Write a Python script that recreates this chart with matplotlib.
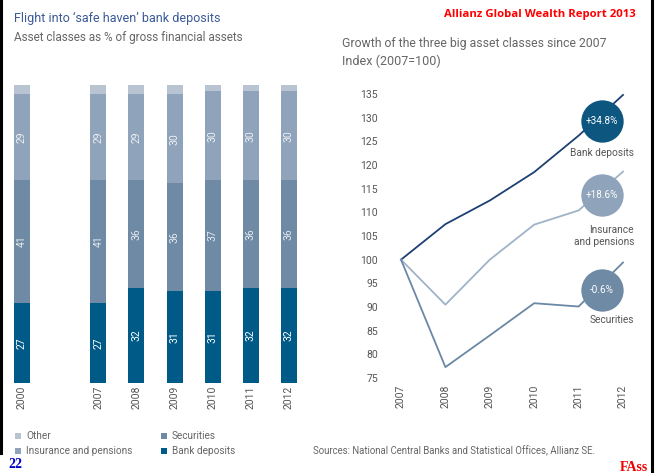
import matplotlib
matplotlib.use("Agg")
import matplotlib.pyplot as plt
from matplotlib.patches import Rectangle
from matplotlib.lines import Line2D

W, H = 657, 473
FONT = ['Roboto', 'DejaVu Sans']
plt.rcParams['font.family'] = FONT

# ---------------- data ----------------
bar_years = ['2000', '2007', '2008', '2009', '2010', '2011', '2012']
bank_dep = [27, 27, 32, 31, 31, 32, 32]
securities = [41, 41, 36, 36, 37, 36, 36]
insurance = [29, 29, 29, 30, 30, 30, 30]
other = [3, 3, 3, 3, 2, 2, 2]

line_years = [2007, 2008, 2009, 2010, 2011, 2012]
idx_bank = [100, 107.5, 112.5, 118.5, 126.2, 134.8]
idx_insurance = [100, 90.5, 100, 107.4, 110.4, 118.6]
idx_securities = [100, 77.3, 84, 90.8, 90.1, 99.4]
growth_labels = ['+34.8%', '+18.6%', '-0.6%']
series_names = ['Bank deposits', 'Insurance\nand pensions', 'Securities']

C_BANK = '#005a87'
C_SEC = '#6e8aa4'
C_INS = '#8fa3ba'
C_OTH = '#b8c4d2'
L_BANK = '#1d3f72'
L_INS = '#9fb3c8'
L_SEC = '#6a88a5'
GREY = '#666666'

fig = plt.figure(figsize=(W / 100, H / 100), dpi=100)
renderer = fig.canvas.get_renderer()


def fx(x):
    return x / W


def fy(y):
    return 1 - y / H


def fit(t, width):
    w = t.get_window_extent(renderer=renderer).width
    t.set_fontsize(t.get_fontsize() * width / w)
    return t


# ---------------- left: stacked bars ----------------
bar_pos = [0, 2, 3, 4, 5, 6, 7]
axL = fig.add_axes([fx(5), fy(383), (320 - 5) / W, (383 - 85) / H])
bw = 0.42
b1 = axL.bar(bar_pos, bank_dep, bw, color=C_BANK, linewidth=0)
bot2 = bank_dep
b2 = axL.bar(bar_pos, securities, bw, bottom=bot2, color=C_SEC, linewidth=0)
bot3 = [a + b for a, b in zip(bank_dep, securities)]
b3 = axL.bar(bar_pos, insurance, bw, bottom=bot3, color=C_INS, linewidth=0)
bot4 = [a + b for a, b in zip(bot3, insurance)]
b4 = axL.bar(bar_pos, other, bw, bottom=bot4, color=C_OTH, linewidth=0)
for cont, col in [(b1, '#ffffff'), (b2, '#e6ebf0'), (b3, '#eef1f5')]:
    axL.bar_label(cont, label_type='center', rotation=90, color=col, fontsize=7.5)
axL.set_xlim(-0.446, 7.813)
axL.set_ylim(0, 100)
axL.set_xticks(bar_pos, bar_years, rotation=90, va='top')
axL.tick_params(axis='x', length=0, pad=2, labelsize=7.5, labelcolor='#555555')
axL.set_yticks([])
for s in axL.spines.values():
    s.set_visible(False)

# ---------------- right: index lines ----------------
axR = fig.add_axes([fx(392), fy(382), 240 / W, 292 / H])
axR.plot(line_years, idx_bank, color=L_BANK, lw=1.3, zorder=2)
axR.plot(line_years, idx_insurance, color=L_INS, lw=1.3, zorder=2)
axR.plot(line_years, idx_securities, color=L_SEC, lw=1.3, zorder=2)
axR.set_xlim(2006.797, 2012.203)
axR.set_ylim(74.156, 135.844)
axR.set_yticks(range(75, 136, 5))
axR.set_xticks(line_years, [str(y) for y in line_years], rotation=90, va='top')
axR.tick_params(axis='y', length=0, pad=10, labelsize=7.5, labelcolor='#555555')
axR.tick_params(axis='x', length=0, pad=2, labelsize=7.5, labelcolor='#555555')
for s in axR.spines.values():
    s.set_visible(False)

circ_x = 2011.52
circ_y = [129.4, 113.7, 93.6]
circ_cols = ['#0c5680', C_INS, C_SEC]
name_y = [122.6, 105.0, 87.3]
for cy, col, lab, nm, ny in zip(circ_y, circ_cols, growth_labels, series_names, name_y):
    axR.scatter([circ_x], [cy], s=930, color=col, zorder=3, linewidths=0)
    axR.text(circ_x, cy, lab, color='white', ha='center', va='center', fontsize=7.2, zorder=4)
    axR.text(2012.25, ny, nm, color='#555555', ha='right', va='center', fontsize=7.3,
             linespacing=1.15, zorder=4)

# ---------------- titles ----------------
fit(fig.text(fx(14), fy(18), "Flight into \u2018safe haven\u2019 bank deposits", color='#3a5998',
             fontsize=10, va='center', ha='left'), 206)
fit(fig.text(fx(14), fy(38), "Asset classes as % of gross financial assets", color=GREY,
             fontsize=10, va='center', ha='left'), 231)
fit(fig.text(fx(636), fy(15), "Allianz Global Wealth Report 2013", color='#ff0000',
             fontsize=9, fontweight='bold', va='center', ha='right',
             family=['Open Sans', 'DejaVu Sans']), 191)
fit(fig.text(fx(342), fy(43), "Growth of the three big asset classes since 2007", color=GREY,
             fontsize=10, va='center', ha='left'), 264)
fit(fig.text(fx(342), fy(61), "Index (2007=100)", color=GREY,
             fontsize=10, va='center', ha='left'), 98)

# ---------------- legend ----------------
leg = [("Other", C_OTH, 15, 436), ("Insurance and pensions", C_INS, 15, 451),
       ("Securities", C_SEC, 161, 436), ("Bank deposits", C_BANK, 161, 451)]
for txt, col, x, y in leg:
    fig.patches.append(Rectangle((fx(x), fy(y + 3)), 6 / W, 6 / H, transform=fig.transFigure,
                                 facecolor=col, edgecolor='none'))
    fig.text(fx(x + 11), fy(y), txt, color=GREY, fontsize=7.2, va='center', ha='left')
fit(fig.text(fx(313), fy(451), "Sources: National Central Banks and Statistical Offices, Allianz SE.",
             color=GREY, fontsize=8, va='center', ha='left'), 284)

fit(fig.text(fx(8), fy(464), "22", color='#0000cc', fontsize=9, fontweight='bold',
             va='center', ha='left', family=['Liberation Serif', 'DejaVu Serif']), 14)
fit(fig.text(fx(648), fy(467), "FAss", color='#ee0000', fontsize=9, fontweight='bold',
             va='center', ha='right', family=['Liberation Serif', 'DejaVu Serif']), 28)

# ---------------- borders ----------------
fig.lines.append(Line2D([fx(1.2), fx(1.2)], [fy(0), fy(453)], transform=fig.transFigure,
                        color='black', lw=2.2))
fig.lines.append(Line2D([fx(652), fx(652)], [fy(0), fy(473)], transform=fig.transFigure,
                        color='black', lw=2.2))

fig.savefig("out.png", dpi=100)
